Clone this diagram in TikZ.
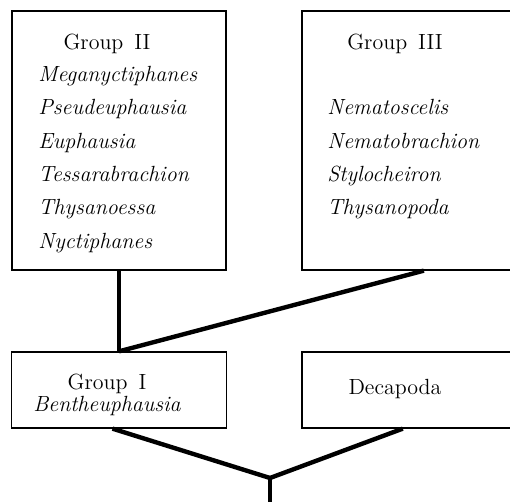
\documentclass[tikz,border=0pt]{standalone}
\usepackage{tikz}
\usetikzlibrary{positioning, calc}

\begin{document}
\begin{tikzpicture}[
    x=0.02cm, y=-0.02cm,
    box/.style={rectangle, draw, line width=0.75pt, inner sep=0pt},
    tallbox/.style={box, minimum width=4.28cm, minimum height=5.18cm},
    lowbox/.style={box, minimum width=4.3cm, minimum height=1.52cm},
    title/.style={font=\fontsize{12.5}{15}\selectfont, anchor=base, inner sep=0pt},
    genus/.style={font=\fontsize{12.5}{15}\selectfont\itshape, anchor=base west, inner sep=0pt},
    link/.style={line width=2.5pt}
]
\useasboundingbox (0,0) rectangle (510,502);

% Boxes
\node[tallbox] (grpII) at (119,140.5) {};
\node[tallbox, minimum width=4.2cm] (grpIII) at (407,140.5) {};
\node[lowbox] (grpI) at (119,390) {};
\node[lowbox, minimum width=4.2cm] (deca) at (407,390) {};

% Texts
\node[title] (tII) at (107,50) {Group\enspace II};
\node[genus] (g1) at (38,82) {Meganyctiphanes};
\node[genus] (g2) at (38,115) {Pseudeuphausia};
\node[genus] (g3) at (38,149) {Euphausia};
\node[genus] (g4) at (38,182) {Tessarabrachion};
\node[genus] (g5) at (38,215) {Thysanoessa};
\node[genus] (g6) at (38,249) {Nyctiphanes};

\node[title] (tIII) at (395,50) {Group\enspace III};
\node[genus] (h1) at (327,115) {Nematoscelis};
\node[genus] (h2) at (327,149) {Nematobrachion};
\node[genus] (h3) at (327,182) {Stylocheiron};
\node[genus] (h4) at (327,215) {Thysanopoda};

\node[title] (tI) at (107,390) {Group\enspace I};
\node[title] (b1) at (107,412) {\itshape Bentheuphausia};
\node[title] (tdeca) at (395,395) {Decapoda};

% Links
\coordinate (root) at (270,478);
\coordinate (rootend) at (270,505);
\draw[link] (grpII.south) -- (grpI.north);
\draw[link] ($(grpIII.south west)!0.58!(grpIII.south east)$) -- (grpI.north);
\draw[link] ($(grpI.south west)!0.47!(grpI.south east)$) -- (root);
\draw[link] ($(deca.south west)!0.48!(deca.south east)$) -- (root);
\draw[link] (root) -- (rootend);

\end{tikzpicture}
\end{document}
